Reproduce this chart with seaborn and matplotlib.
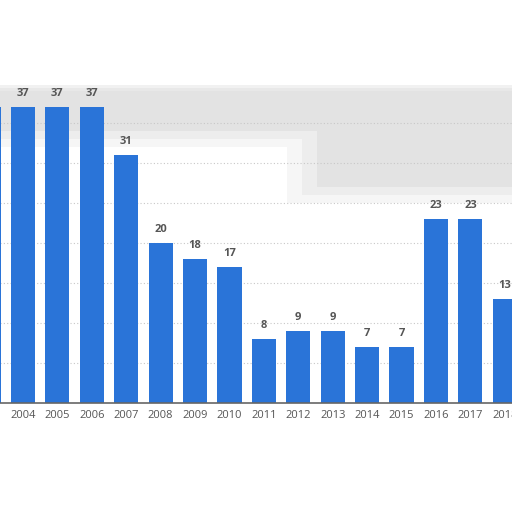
import matplotlib
matplotlib.use('Agg')
import matplotlib.pyplot as plt
import seaborn as sns
import pandas as pd

# Values (2003 and 2018 are cut off at the edges)
years = ['2003', '2004', '2005', '2006', '2007', '2008', '2009', '2010',
         '2011', '2012', '2013', '2014', '2015', '2016', '2017', '2018']
values = [37, 37, 37, 37, 31, 20, 18, 17, 8, 9, 9, 7, 7, 23, 23, 13]
tick_labels = years

df = pd.DataFrame({'year': years, 'value': values})

sns.set_theme(style='white')
plt.rcParams['font.family'] = ['Open Sans', 'DejaVu Sans']

fig = plt.figure(figsize=(5.12, 5.12), dpi=100)
ax = fig.add_axes([0, 109 / 512, 1, 320 / 512])

sns.barplot(data=df, x='year', y='value', order=years, color='#2a74d8',
            saturation=1, width=0.70, linewidth=0, ax=ax, zorder=3)

# soft grey haze behind the top of the plot (a few faded layers)
for k, a in enumerate([0.25, 0.2, 0.15]):
    ax.axhspan(34.0 - k, 39.8 - 0.4 * k, color='#c8c8c8', alpha=a, zorder=0, lw=0)
    ax.axhspan(27.0 - k, 34.0 - k, xmin=0.62 - 0.03 * k, xmax=1,
               color='#c8c8c8', alpha=a, zorder=0, lw=0)

# dotted grid lines
for y in range(5, 40, 5):
    ax.axhline(y, color='#c8c8c8', linestyle=(0, (1, 2)), linewidth=0.8, zorder=1)

# value labels above bars
for i, v in enumerate(values):
    ax.text(i, v + 1.0, str(v), ha='center', va='bottom', fontsize=8,
            fontweight='bold', color='#555555', zorder=4)

ax.set_yticks([])
ax.set_xticks(range(len(tick_labels)))
ax.set_xticklabels(tick_labels, fontsize=8, color='#555555')
ax.set_xlim(0.331, 15.21)
ax.set_ylim(0, 40)
ax.tick_params(axis='x', length=0, pad=5)
ax.set_xlabel('')
ax.set_ylabel('')
for side in ['top', 'left', 'right']:
    ax.spines[side].set_visible(False)
ax.spines['bottom'].set_color('#666666')
ax.spines['bottom'].set_linewidth(1.2)
ax.spines['bottom'].set_zorder(5)

fig.savefig('out.png', dpi=100)
